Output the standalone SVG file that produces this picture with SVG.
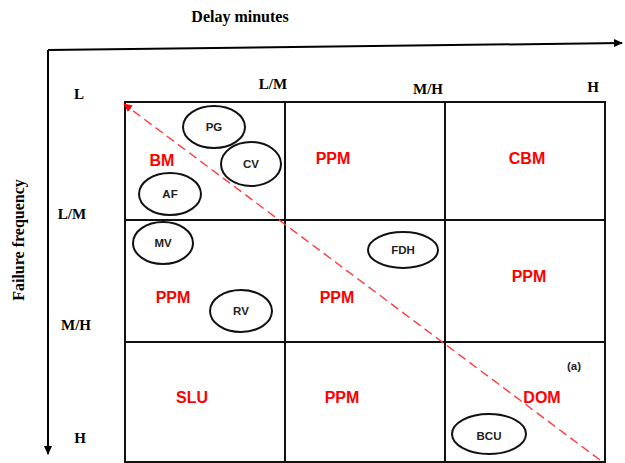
<svg xmlns="http://www.w3.org/2000/svg" width="625" height="463" viewBox="0 0 625 463">
  <style>
    .axis { stroke: #000; stroke-width: 2; fill: none; }
    .grid { stroke: #111; stroke-width: 2; fill: none; }
    .diag { stroke: #ff3b3b; stroke-width: 1.4; stroke-dasharray: 9 5; fill: none; }
    .oval { stroke: #111; stroke-width: 2; fill: none; }
    .lbl { font-family: "Liberation Serif", "Times New Roman", serif; font-weight: bold; font-size: 15px; fill: #000; }
    .title { font-family: "Liberation Serif", "Times New Roman", serif; font-weight: bold; font-size: 16px; fill: #000; }
    .zone { font-family: "Liberation Sans", Arial, sans-serif; font-weight: bold; font-size: 16px; fill: #ff0000; text-anchor: middle; }
    .item { font-family: "Liberation Sans", Arial, sans-serif; font-weight: bold; font-size: 11.5px; fill: #222; text-anchor: middle; }
  </style>
  <defs>
    <marker id="arrowBlack" markerWidth="10" markerHeight="10" refX="8" refY="5" orient="auto" markerUnits="userSpaceOnUse">
      <path d="M0,1 L9,5 L0,9 Z" fill="#000"/>
    </marker>
    <marker id="arrowRed" markerWidth="10" markerHeight="10" refX="8" refY="5" orient="auto" markerUnits="userSpaceOnUse">
      <path d="M0,1 L9,5 L0,9 Z" fill="#ff0000"/>
    </marker>
  </defs>
  <rect width="625" height="463" fill="#fff"/>

  <!-- axes -->
  <g id="axes">
    <path class="axis" d="M48,50 L622,43" marker-end="url(#arrowBlack)"/>
    <path class="axis" d="M48,50 L48,454" marker-end="url(#arrowBlack)"/>
    <text class="title" x="240" y="22" text-anchor="middle">Delay minutes</text>
    <text class="title" x="24" y="240" text-anchor="middle" transform="rotate(-90 24 240)">Failure frequency</text>
    <text class="lbl" x="79" y="99" text-anchor="middle">L</text>
    <text class="lbl" x="273" y="89" text-anchor="middle">L/M</text>
    <text class="lbl" x="428" y="94" text-anchor="middle">M/H</text>
    <text class="lbl" x="593" y="92" text-anchor="middle">H</text>
    <text class="lbl" x="72" y="219" text-anchor="middle">L/M</text>
    <text class="lbl" x="76" y="330" text-anchor="middle">M/H</text>
    <text class="lbl" x="80" y="443" text-anchor="middle">H</text>
  </g>

  <!-- matrix -->
  <g id="matrix">
    <rect class="grid" x="125" y="102" width="480" height="360"/>
    <line class="grid" x1="285" y1="102" x2="285" y2="462"/>
    <line class="grid" x1="445" y1="102" x2="445" y2="462"/>
    <line class="grid" x1="125" y1="220" x2="605" y2="220"/>
    <line class="grid" x1="125" y1="342" x2="605" y2="342"/>
  </g>

  <!-- zone labels -->
  <g id="zones">
    <text class="zone" x="162" y="166">BM</text>
    <text class="zone" x="333" y="164">PPM</text>
    <text class="zone" x="527" y="164">CBM</text>
    <text class="zone" x="173" y="303">PPM</text>
    <text class="zone" x="337" y="303">PPM</text>
    <text class="zone" x="529" y="282">PPM</text>
    <text class="zone" x="192" y="403">SLU</text>
    <text class="zone" x="342" y="403">PPM</text>
    <text class="zone" x="542" y="403">DOM</text>
    <text class="item" x="574" y="370">(a)</text>
  </g>

  <!-- connectors -->
  <g id="connectors">
    <path class="diag" d="M600,460 L124,104" marker-end="url(#arrowRed)"/>
  </g>

  <!-- components -->
  <g id="node-PG"><ellipse class="oval" cx="214" cy="127" rx="31" ry="21"/><text class="item" x="214" y="131">PG</text></g>
  <g id="node-CV"><ellipse class="oval" cx="251" cy="164" rx="30" ry="22"/><text class="item" x="251" y="168">CV</text></g>
  <g id="node-AF"><ellipse class="oval" cx="170" cy="194" rx="31" ry="21"/><text class="item" x="170" y="198">AF</text></g>
  <g id="node-MV"><ellipse class="oval" cx="163" cy="243" rx="30" ry="21"/><text class="item" x="163" y="247">MV</text></g>
  <g id="node-RV"><ellipse class="oval" cx="241" cy="311" rx="31" ry="21"/><text class="item" x="241" y="315">RV</text></g>
  <g id="node-FDH"><ellipse class="oval" cx="403" cy="250" rx="35" ry="18"/><text class="item" x="403" y="254">FDH</text></g>
  <g id="node-BCU"><ellipse class="oval" cx="489" cy="434" rx="37" ry="20"/><text class="item" x="489" y="440">BCU</text></g>
</svg>
